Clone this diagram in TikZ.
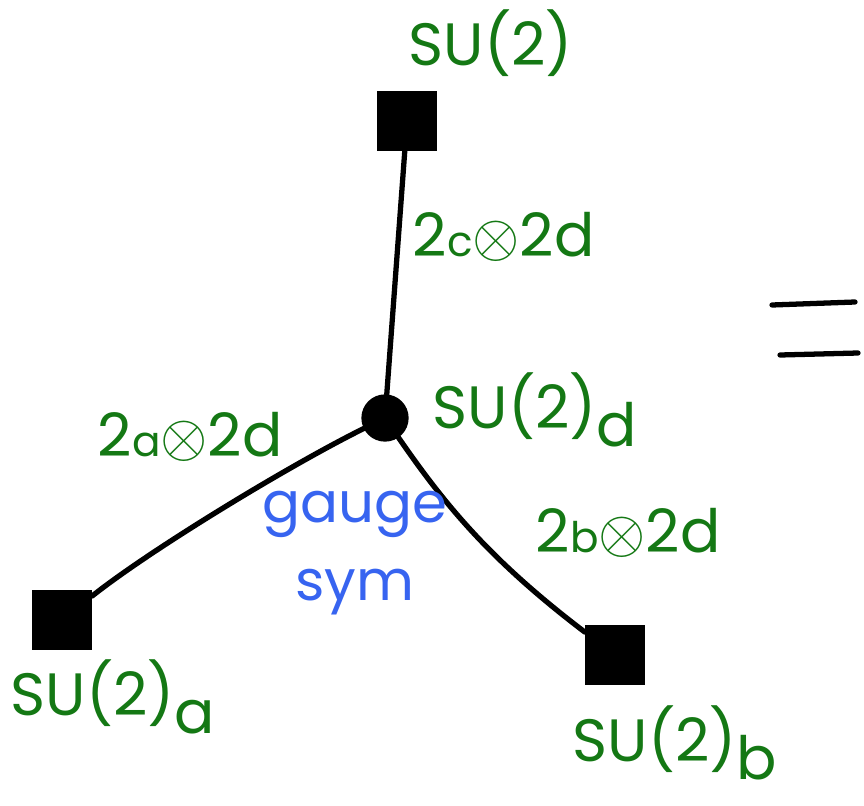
\documentclass[tikz,border=0pt]{standalone}
\usepackage{fontspec}
\setmainfont{Poppins}
\definecolor{lblgreen}{RGB}{20,120,20}
\definecolor{symblue}{RGB}{55,100,240}
\newcommand{\sub}[1]{\raisebox{-0.55ex}{#1}}
\newcommand{\lsub}[1]{{\fontsize{12}{13}\selectfont #1}}
\tikzset{
  sqnode/.style={draw, fill=black, line width=1.5pt, minimum size=0.55cm, inner sep=0pt},
  gaugedot/.style={circle, draw, fill=black, line width=1.5pt, minimum size=0.42cm, inner sep=0pt},
  lbl/.style={text=lblgreen, anchor=west, inner sep=0pt, font=\fontsize{17}{19}\selectfont},
  symlbl/.style={text=symblue, align=center, font=\fontsize{16}{18}\selectfont},
  leg/.style={line width=1.5pt, line cap=round}
}
\begin{document}
\begin{tikzpicture}
  \useasboundingbox (0,0) rectangle (8.64,8.05);

  % nodes of the quiver
  \node[sqnode] (topsq) at (4.07,6.84) {};
  \node[gaugedot] (gauge) at (3.85,3.87) {};
  \node[sqnode] (sqa) at (0.62,1.85) {};
  \node[sqnode] (sqb) at (6.15,1.50) {};

  \draw[leg] (topsq) -- (gauge);
  \draw[leg] (gauge) .. controls (2.9,3.40) and (1.5,2.55) .. (sqa);
  \draw[leg] (gauge) .. controls (4.45,3.0) and (4.9,2.45) .. (sqb);

  % labels
  \node[lbl] (topl) at (4.08,7.62) {SU(2)};
  \node[lbl] (cd) at (4.12,5.68) {2\lsub{c}$\otimes$2d};
  \node[lbl] (dl) at (4.32,3.95) {SU(2)\sub{d}};
  \node[lbl] (ad) at (0.97,3.68) {2\lsub{a}$\otimes$2d};
  \node[symlbl] (gl) at (3.55,2.52) {gauge\\[4pt]sym};
  \node[lbl] (al) at (0.10,1.08) {SU(2)\sub{a}};
  \node[lbl] (bd) at (5.35,2.72) {2\lsub{b}$\otimes$2d};
  \node[lbl] (bl) at (5.72,0.62) {SU(2)\sub{b}};

  % the equals sign
  \coordinate (eq1a) at (7.72,5.00);
  \coordinate (eq1b) at (8.55,5.03);
  \coordinate (eq2a) at (7.80,4.50);
  \coordinate (eq2b) at (8.58,4.52);
  \draw[leg] (eq1a) -- (eq1b);
  \draw[leg] (eq2a) -- (eq2b);
\end{tikzpicture}
\end{document}
